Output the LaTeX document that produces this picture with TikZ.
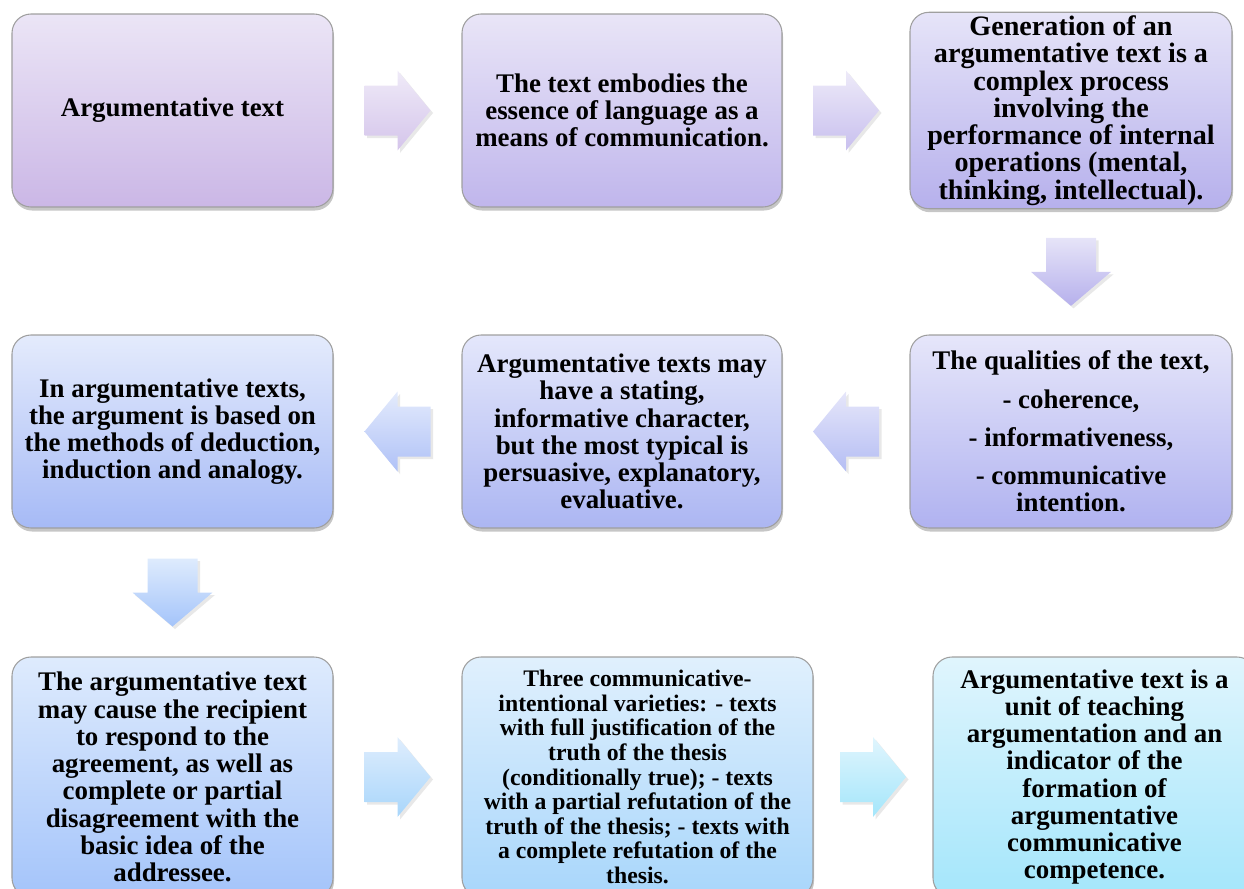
\documentclass[tikz,border=0pt]{standalone}
\usepackage{fontspec}
\setmainfont{Liberation Serif}
\usetikzlibrary{calc,shadows}

\definecolor{topA}{RGB}{235,229,246}
\definecolor{botA}{RGB}{203,183,230}
\definecolor{topB}{RGB}{233,229,247}
\definecolor{botB}{RGB}{192,182,236}
\definecolor{topC}{RGB}{230,228,248}
\definecolor{botC}{RGB}{182,176,236}
\definecolor{topD}{RGB}{228,235,252}
\definecolor{botD}{RGB}{166,186,246}
\definecolor{topE}{RGB}{228,231,251}
\definecolor{botE}{RGB}{172,182,242}
\definecolor{topF}{RGB}{230,230,250}
\definecolor{botF}{RGB}{176,178,240}
\definecolor{topG}{RGB}{222,235,253}
\definecolor{botG}{RGB}{164,196,250}
\definecolor{topH}{RGB}{224,240,253}
\definecolor{botH}{RGB}{168,214,251}
\definecolor{topI}{RGB}{224,245,253}
\definecolor{botI}{RGB}{164,230,251}

\begin{document}
\begin{tikzpicture}[
	box/.style={draw=gray!75, line width=0.6pt, rounded corners=0.38cm, align=center, inner sep=2pt, minimum width=6.42cm, minimum height=3.86cm, font=\fontsize{15.3}{15.5}\selectfont\bfseries, drop shadow={opacity=0.45, shadow xshift=0.02cm, shadow yshift=-0.07cm}},
	arrshadow/.style={drop shadow={opacity=0.18, shadow xshift=0.05cm, shadow yshift=-0.05cm}},
	pics/rarr/.style 2 args={code={\shade[top color=#1, bottom color=#2, arrshadow] (-0.66,-0.5) -- (0,-0.5) -- (0,-0.8) -- (0.66,0) -- (0,0.8) -- (0,0.5) -- (-0.66,0.5) -- cycle;}},
	pics/larr/.style 2 args={code={\shade[top color=#1, bottom color=#2, arrshadow] (0.66,-0.5) -- (0,-0.5) -- (0,-0.8) -- (-0.66,0) -- (0,0.8) -- (0,0.5) -- (0.66,0.5) -- cycle;}},
	pics/darr/.style 2 args={code={\shade[top color=#1, bottom color=#2, arrshadow] (-0.5,0.68) -- (0.5,0.68) -- (0.5,0) -- (0.8,0) -- (0,-0.68) -- (-0.8,0) -- (-0.5,0) -- cycle;}}
	]
	\path[use as bounding box, clip] (0,0) rectangle (24.88,-17.78);

	\node[box, top color=topA, bottom color=botA] (b1)at(3.45, -2.21) {Argumentative text};
	\node[box, top color=topB, bottom color=botB, minimum width=6.40cm] (b2)at(12.44, -2.21) {The text embodies the\\ essence of language as a\\ means of communication.};
	\node[box, top color=topC, bottom color=botC, minimum width=6.44cm, font=\fontsize{16}{15.5}\selectfont\bfseries] (b3)at(21.42, -2.21) {Generation of an\\ argumentative text is a\\ complex process\\ involving the\\ performance of internal\\ operations (mental,\\ thinking, intellectual).};
	\node[box, top color=topD, bottom color=botD] (b4)at(3.45, -8.63) {In argumentative texts,\\ the argument is based on\\ the methods of deduction,\\ induction and analogy.};
	\node[box, top color=topE, bottom color=botE, minimum width=6.40cm] (b5)at(12.44, -8.63) {Argumentative texts may\\ have a stating,\\ informative character,\\ but the most typical is\\ persuasive, explanatory,\\ evaluative.};
	\node[box, top color=topF, bottom color=botF, minimum width=6.44cm] (b6)at(21.42, -8.63) {The qualities of the text,\\[0.22cm] - coherence,\\[0.22cm] - informativeness,\\[0.22cm] - communicative\\ intention.};
	\node[box, top color=topG, bottom color=botG, minimum height=4.8cm] (b7)at(3.45, -15.54) {The argumentative text\\ may cause the recipient\\ to respond to the\\ agreement, as well as\\ complete or partial\\ disagreement with the\\ basic idea of the\\ addressee.};
	\node[box, top color=topH, bottom color=botH, minimum width=7.02cm, minimum height=4.8cm, font=\fontsize{13.5}{14}\selectfont\bfseries] (b8)at(12.75, -15.54) {Three communicative-\\ intentional varieties: - texts\\ with full justification of the\\ truth of the thesis\\ (conditionally true); - texts\\ with a partial refutation of the\\ truth of the thesis; - texts with\\ a complete refutation of the\\ thesis.};
	\node[box, top color=topI, bottom color=botI, minimum width=6.46cm, minimum height=4.8cm] (b9)at(21.89, -15.54) {Argumentative text is a\\ unit of teaching\\ argumentation and an\\ indicator of the\\ formation of\\ argumentative\\ communicative\\ competence.};

	\pic at ($(b1.east)!0.5!(b2.west)$) {rarr={topA!80!white}{botA!70!topA}};
	\pic at ($(b2.east)!0.5!(b3.west)$) {rarr={topB!80!white}{botB!80!topB}};
	\pic at ($(b3.south)!0.5!(b6.north)$) {darr={topC}{botC}};
	\pic at ($(b6.west)!0.5!(b5.east)$) {larr={topF}{botE!85!topE}};
	\pic at ($(b5.west)!0.5!(b4.east)$) {larr={topD}{botD!85!topD}};
	\pic at ($(b4.south)!0.5!(b7.north)$) {darr={topG}{botG}};
	\pic at ($(b7.east)!0.5!(b8.west)$) {rarr={topG!60!topH}{botH}};
	\pic at ($(b8.east)!0.5!(b9.west)$) {rarr={topI}{botI}};
\end{tikzpicture}
\end{document}
